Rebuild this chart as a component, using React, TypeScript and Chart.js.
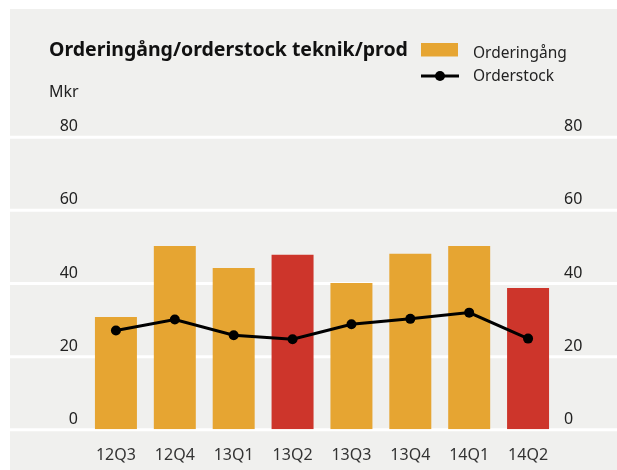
import React, { useEffect, useRef } from "react";
import { Chart, registerables } from "chart.js";

Chart.register(...registerables);

const title = "Orderingång/orderstock teknik/prod";
const unitLabel = "Mkr";
const categories = ["12Q3", "12Q4", "13Q1", "13Q2", "13Q3", "13Q4", "14Q1", "14Q2"];
const orderingang = [30.7, 50.1, 44.1, 47.7, 40.0, 48.0, 50.1, 38.6];
const orderstock = [27.0, 30.0, 25.7, 24.6, 28.7, 30.2, 31.9, 24.8];
const highlighted = ["13Q2", "14Q2"];
const yTicks = [0, 20, 40, 60, 80];
const seriesNames = ["Orderingång", "Orderstock"];

const ORANGE = "#E6A532";
const RED = "#CD352B";
const BG = "#F0F0EE";
const FONT = '"Noto Sans", sans-serif';

const W = 607;
const H = 461;

const chromePlugin = {
  id: "chrome",
  beforeDatasetsDraw(chart: any) {
    const ctx = chart.ctx;
    const y = chart.scales.y;
    ctx.save();
    ctx.strokeStyle = "#ffffff";
    ctx.lineWidth = 3;
    y.ticks.forEach((t: any) => {
      const py = y.getPixelForValue(t.value) + 0.5;
      ctx.beginPath();
      ctx.moveTo(0, py);
      ctx.lineTo(chart.width, py);
      ctx.stroke();
    });
    ctx.restore();
  },
  afterDraw(chart: any) {
    const ctx = chart.ctx;
    ctx.save();
    ctx.fillStyle = "#111";
    ctx.textBaseline = "alphabetic";
    ctx.textAlign = "left";
    ctx.font = `bold 19.5px ${FONT}`;
    ctx.fillText(title, 39, 46.5);
    ctx.font = `16px ${FONT}`;
    ctx.fillStyle = "#222";
    ctx.fillText(unitLabel, 39, 88);
    // legend
    ctx.fillStyle = ORANGE;
    ctx.fillRect(411, 34, 37, 13.5);
    ctx.strokeStyle = "#000";
    ctx.lineWidth = 3;
    ctx.beginPath();
    ctx.moveTo(411, 67);
    ctx.lineTo(449, 67);
    ctx.stroke();
    ctx.fillStyle = "#000";
    ctx.beginPath();
    ctx.arc(430, 67, 5, 0, Math.PI * 2);
    ctx.fill();
    ctx.fillStyle = "#222";
    ctx.font = `15.5px ${FONT}`;
    ctx.fillText(seriesNames[0], 463, 48.5);
    ctx.fillText(seriesNames[1], 463, 72);
    ctx.restore();
  },
};

export default function App() {
  const ref = useRef<HTMLCanvasElement>(null);
  useEffect(() => {
    if (!ref.current) return;
    const chart = new Chart(ref.current, {
      type: "bar",
      data: {
        labels: categories,
        datasets: [
          {
            type: "line",
            label: seriesNames[1],
            data: orderstock,
            borderColor: "#000",
            backgroundColor: "#000",
            borderWidth: 3,
            pointRadius: 5,
            pointBackgroundColor: "#000",
            pointBorderWidth: 0,
            tension: 0,
            yAxisID: "y",
            order: 0,
          } as any,
          {
            type: "bar",
            label: seriesNames[0],
            data: orderingang,
            backgroundColor: categories.map((c) => (highlighted.includes(c) ? RED : ORANGE)),
            borderWidth: 0,
            barPercentage: 0.713,
            categoryPercentage: 1,
            yAxisID: "y",
            order: 1,
          },
        ],
      },
      options: {
        responsive: false,
        animation: false,
        layout: { padding: { top: 127.7, left: 0, right: 0, bottom: 0 } },
        plugins: { legend: { display: false }, tooltip: { enabled: false }, title: { display: false } },
        scales: {
          x: {
            type: "category",
            offset: true,
            grid: { display: false, drawTicks: false },
            border: { display: false },
            ticks: { color: "#333", font: { family: FONT, size: 16 }, padding: 17, maxRotation: 0 },
            afterFit: (s: any) => {
              s.height = 40.7;
            },
          },
          y: {
            position: "left",
            min: 0,
            max: 80,
            grid: { display: false, drawTicks: false },
            border: { display: false },
            afterBuildTicks: (s: any) => {
              s.ticks = yTicks.map((v) => ({ value: v }));
            },
            ticks: { color: "#222", font: { family: FONT, size: 16 }, padding: 8.5, labelOffset: -10 },
            afterFit: (s: any) => {
              s.width = 76.5;
            },
          },
          y2: {
            position: "right",
            min: 0,
            max: 80,
            grid: { display: false, drawTicks: false },
            border: { display: false },
            afterBuildTicks: (s: any) => {
              s.ticks = yTicks.map((v) => ({ value: v }));
            },
            ticks: { color: "#222", font: { family: FONT, size: 16 }, padding: 6.5, labelOffset: -10 },
            afterFit: (s: any) => {
              s.width = 59.5;
            },
          },
        },
      },
      plugins: [chromePlugin],
    });
    return () => chart.destroy();
  }, []);
  return (
    <div style={{ position: "fixed", left: 10, top: 9, right: 0, bottom: 0, background: BG, overflow: "hidden" }}>
      <canvas ref={ref} width={W} height={H} style={{ width: W, height: H, display: "block" }} />
    </div>
  );
}
